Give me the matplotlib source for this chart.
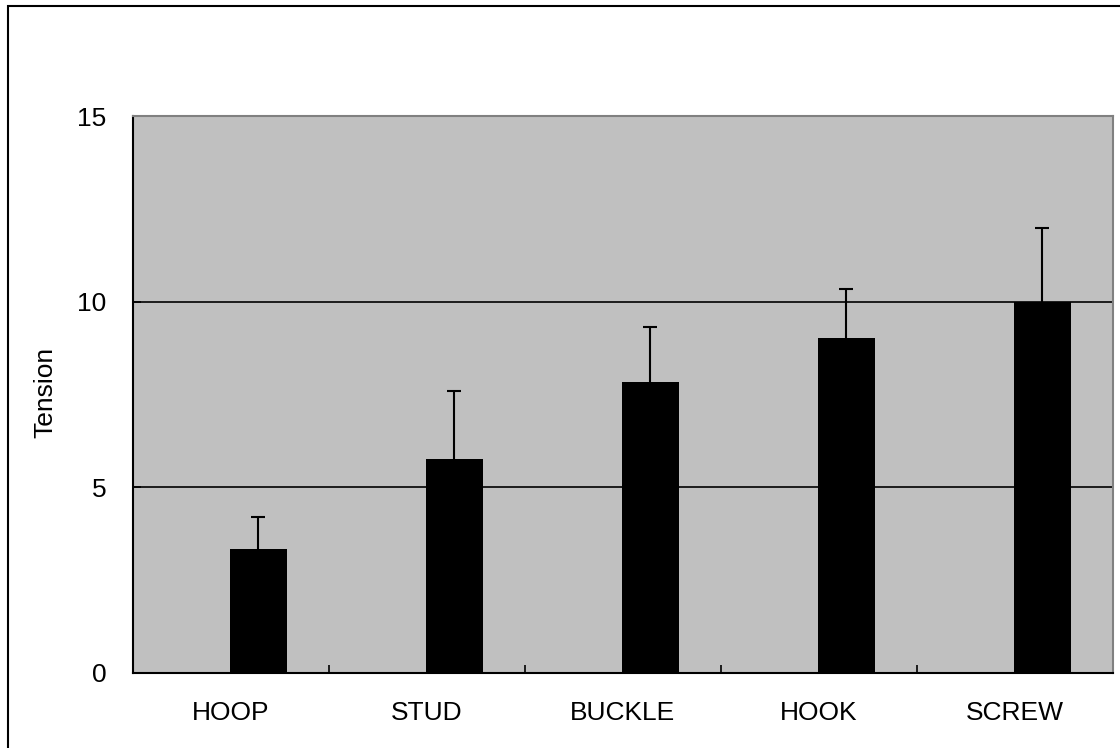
import matplotlib.pyplot as plt
from matplotlib.patches import Rectangle
import numpy as np

plt.rcParams['font.family'] = ['Liberation Sans', 'DejaVu Sans']

categories = ['HOOP', 'STUD', 'BUCKLE', 'HOOK', 'SCREW']
tension = [3.34, 5.76, 7.84, 9.02, 10.0]
err_upper = [0.86, 1.84, 1.48, 1.32, 1.98]

fig = plt.figure(figsize=(11.2, 7.48), dpi=100)
ax = fig.add_axes([133/1120, 1 - 673/748, 980/1120, 557/748])
ax.set_facecolor('#c0c0c0')

x = np.arange(len(categories))
ax.bar(x + 0.14, tension, width=0.29, color='black', zorder=3)
eb = ax.errorbar(x + 0.14, tension, yerr=[np.zeros(len(x)), err_upper], fmt='none',
                 ecolor='black', elinewidth=1.5, capsize=5, capthick=1.5, zorder=4)
# only the upper cap should show
for cap in eb[1]:
    if np.allclose(cap.get_ydata(), tension):
        cap.set_visible(False)

ax.set_xlim(-0.5, len(categories) - 0.5)
ax.set_ylim(0, 15)
ax.set_yticks([0, 5, 10, 15])
for v in [5, 10]:
    ax.axhline(v, color='black', linewidth=1.2, zorder=2)

# category boundaries get the ticks, names sit between them
ax.set_xticks(np.arange(-0.5, len(categories)))
ax.set_xticklabels([])
ax.set_xticks(x, minor=True)
ax.set_xticklabels(categories, minor=True)
ax.tick_params(axis='x', which='major', direction='in', length=6, width=1.2)
ax.tick_params(axis='x', which='minor', length=0, pad=20, labelsize=19)
ax.tick_params(axis='y', direction='in', length=6, width=1.2, pad=19, labelsize=19)

for side in ['left', 'bottom']:
    ax.spines[side].set_color('black')
    ax.spines[side].set_linewidth(1.5)
for side in ['top', 'right']:
    ax.spines[side].set_color('#808080')
    ax.spines[side].set_linewidth(1.5)

fig.text(45/1120, 1 - 392/748, 'Tension', rotation=90, ha='center', va='center', fontsize=19)

# outer chart frame, running past the right and bottom edges
fig.patches.append(Rectangle((8/1120, -0.1), 1.2, 1 - 6/748 + 0.1, transform=fig.transFigure,
                             fill=False, edgecolor='black', linewidth=1.5))

fig.savefig('out.png', dpi=100)
